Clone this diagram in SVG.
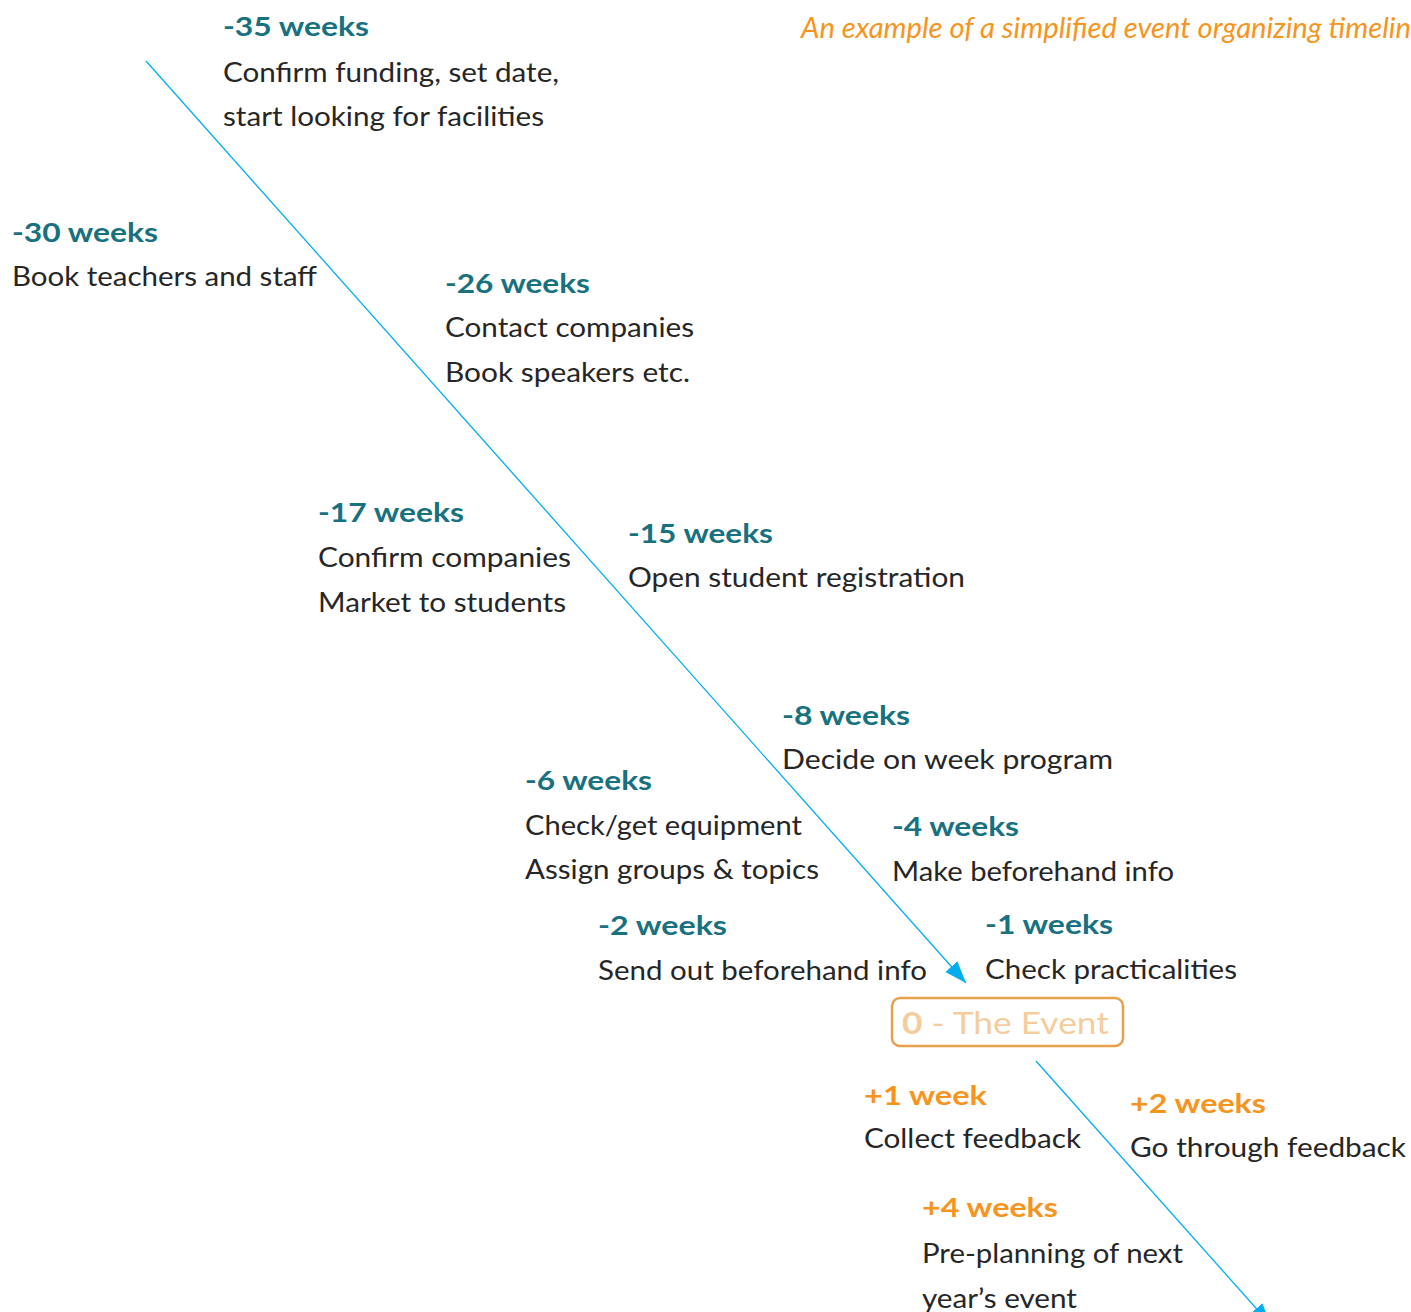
<svg xmlns="http://www.w3.org/2000/svg" width="1411" height="1312" viewBox="0 0 1411 1312">
<defs>
<style>
text{font-family:"Gill Sans","Lato","Open Sans","Liberation Sans",sans-serif;font-size:27px;fill:#262626}
.h{font-weight:bold;fill:#17717f}
.o{font-weight:bold;fill:#f7941d}
.title{font-style:italic;fill:#f7941d;font-size:29px}
.conn{stroke:#00aeef;stroke-width:1.3;fill:none}
</style>
<marker id="arr" markerUnits="userSpaceOnUse" markerWidth="24" markerHeight="18" refX="22" refY="8" orient="auto">
<path d="M0,0 L22,8 L0,16 Z" fill="#00aeef"/>
</marker>
</defs>
<rect width="1411" height="1312" fill="#ffffff"/>
<text class="title" x="801" y="38" textLength="624" lengthAdjust="spacingAndGlyphs">An example of a simplified event organizing timeline</text>
<g id="connectors">
<line class="conn" x1="146" y1="61" x2="966" y2="983" marker-end="url(#arr)"/>
<line class="conn" x1="1036" y1="1061" x2="1271" y2="1325" marker-end="url(#arr)"/>
</g>
<g id="n35">
<text class="h" x="223" y="36" textLength="146" lengthAdjust="spacingAndGlyphs">-35 weeks</text>
<text x="223" y="82" textLength="336" lengthAdjust="spacingAndGlyphs">Confirm funding, set date,</text>
<text x="223" y="126" textLength="321" lengthAdjust="spacingAndGlyphs">start looking for facilities</text>
</g>
<g id="n30">
<text class="h" x="12" y="242" textLength="146" lengthAdjust="spacingAndGlyphs">-30 weeks</text>
<text x="12" y="286" textLength="305" lengthAdjust="spacingAndGlyphs">Book teachers and staff</text>
</g>
<g id="n26">
<text class="h" x="445" y="293" textLength="145" lengthAdjust="spacingAndGlyphs">-26 weeks</text>
<text x="445" y="337" textLength="249" lengthAdjust="spacingAndGlyphs">Contact companies</text>
<text x="445" y="382" textLength="245" lengthAdjust="spacingAndGlyphs">Book speakers etc.</text>
</g>
<g id="n17">
<text class="h" x="318" y="522" textLength="146" lengthAdjust="spacingAndGlyphs">-17 weeks</text>
<text x="318" y="567" textLength="253" lengthAdjust="spacingAndGlyphs">Confirm companies</text>
<text x="318" y="612" textLength="248" lengthAdjust="spacingAndGlyphs">Market to students</text>
</g>
<g id="n15">
<text class="h" x="628" y="543" textLength="145" lengthAdjust="spacingAndGlyphs">-15 weeks</text>
<text x="628" y="587" textLength="337" lengthAdjust="spacingAndGlyphs">Open student registration</text>
</g>
<g id="n8">
<text class="h" x="782" y="725" textLength="128" lengthAdjust="spacingAndGlyphs">-8 weeks</text>
<text x="782" y="769" textLength="331" lengthAdjust="spacingAndGlyphs">Decide on week program</text>
</g>
<g id="n6">
<text class="h" x="525" y="790" textLength="127" lengthAdjust="spacingAndGlyphs">-6 weeks</text>
<text x="525" y="835" textLength="277" lengthAdjust="spacingAndGlyphs">Check/get equipment</text>
<text x="525" y="879" textLength="294" lengthAdjust="spacingAndGlyphs">Assign groups &amp; topics</text>
</g>
<g id="n4">
<text class="h" x="892" y="836" textLength="127" lengthAdjust="spacingAndGlyphs">-4 weeks</text>
<text x="892" y="881" textLength="282" lengthAdjust="spacingAndGlyphs">Make beforehand info</text>
</g>
<g id="n2">
<text class="h" x="598" y="935" textLength="129" lengthAdjust="spacingAndGlyphs">-2 weeks</text>
<text x="598" y="980" textLength="329" lengthAdjust="spacingAndGlyphs">Send out beforehand info</text>
</g>
<g id="n1">
<text class="h" x="985" y="934" textLength="128" lengthAdjust="spacingAndGlyphs">-1 weeks</text>
<text x="985" y="979" textLength="252" lengthAdjust="spacingAndGlyphs">Check practicalities</text>
</g>
<g id="event">
<rect x="892" y="998" width="231" height="48" rx="8" fill="#ffffff" stroke="#e8a14a" stroke-width="2.5"/>
<text x="902" y="1034" style="fill:#f5cd9c;font-size:30px" textLength="207" lengthAdjust="spacingAndGlyphs"><tspan font-weight="bold">0</tspan> - The Event</text>
</g>
<g id="p1">
<text class="o" x="864" y="1105" textLength="123" lengthAdjust="spacingAndGlyphs">+1 week</text>
<text x="864" y="1148" textLength="217" lengthAdjust="spacingAndGlyphs">Collect feedback</text>
</g>
<g id="p2">
<text class="o" x="1130" y="1113" textLength="136" lengthAdjust="spacingAndGlyphs">+2 weeks</text>
<text x="1130" y="1157" textLength="276" lengthAdjust="spacingAndGlyphs">Go through feedback</text>
</g>
<g id="p4">
<text class="o" x="922" y="1217" textLength="136" lengthAdjust="spacingAndGlyphs">+4 weeks</text>
<text x="922" y="1263" textLength="261" lengthAdjust="spacingAndGlyphs">Pre-planning of next</text>
<text x="922" y="1308" textLength="155" lengthAdjust="spacingAndGlyphs">year’s event</text>
</g>
</svg>
